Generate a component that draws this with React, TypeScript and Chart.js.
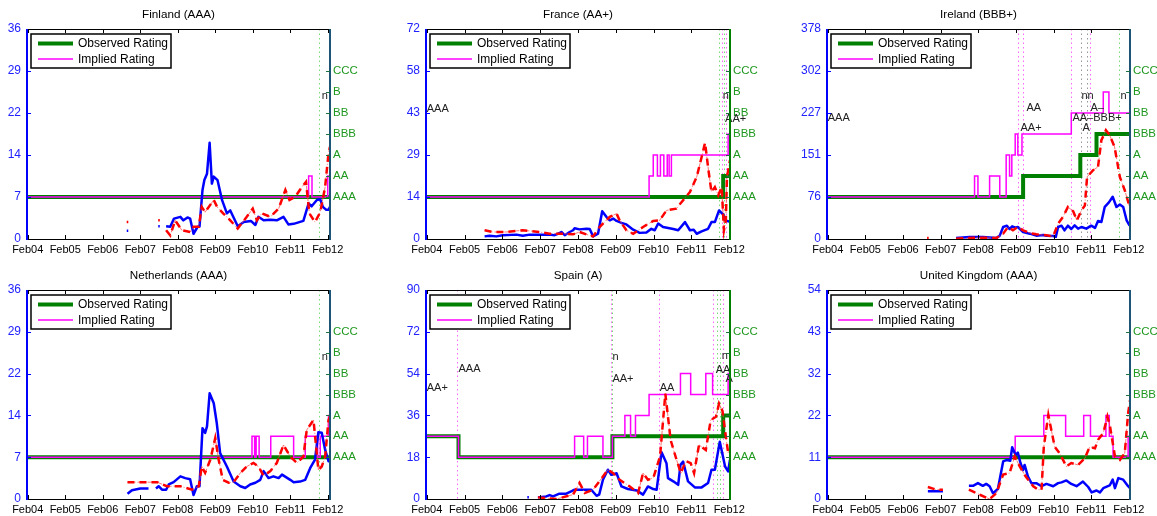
import React, { useEffect, useRef } from 'react';
import { Chart, registerables } from 'chart.js';

Chart.register(...registerables);

type Pt = [number, number];
type Step = [number, string];
type Note = [string, number, number];

const FONT = '"Liberation Sans", Arial, Helvetica, sans-serif';

// ---------- shared labels ----------
const RATINGS = ['AAA', 'AA', 'A', 'BBB', 'BB', 'B', 'CCC'];
const X_TICK_LABELS = ['Feb04', 'Feb05', 'Feb06', 'Feb07', 'Feb08', 'Feb09', 'Feb10', 'Feb11', 'Feb12'];
const TITLES = ['Finland (AAA)', 'France (AA+)', 'Ireland (BBB+)', 'Netherlands (AAA)', 'Spain (A)', 'United Kingdom (AAA)'];
const LEFT_MAX = [36, 72, 378, 36, 90, 54];
const X_END = [8.06, 8.02, 8.03, 8.06, 8.02, 8.03];

// ---------- Finland ----------
const finlandSpread: Pt[][] = [
  [[2.64, 1.4], [2.68, 1.4]],
  [[3.48, 2.2], [3.52, 2.2]],
  [[3.69, 2.2], [3.8, 2.1], [3.9, 3.5], [4.07, 3.8], [4.15, 3.2], [4.26, 3.7], [4.33, 3.5], [4.42, 0.9], [4.53, 2.1], [4.58, 2.1], [4.66, 8.4], [4.71, 10.1], [4.78, 11.2], [4.85, 16.5], [4.91, 9.5], [4.96, 10.7], [5.06, 10.1], [5.18, 6.7], [5.31, 4.4], [5.4, 4.9], [5.6, 2.2], [5.76, 2.9], [5.95, 3.1], [6.07, 2.4], [6.15, 3.8], [6.29, 3.2], [6.47, 3.3], [6.64, 3.2], [6.82, 3.8], [6.95, 2.5], [7.09, 2.6], [7.35, 3.1], [7.49, 6.1], [7.57, 5.6], [7.71, 6.7], [7.8, 6.8], [7.87, 5.5], [7.96, 5.0], [8.02, 5.0], [8.06, 5.5]],
];
const finlandFitted: Pt[][] = [
  [[2.64, 2.9], [2.68, 2.9]],
  [[3.48, 3.2], [3.52, 3.2]],
  [[3.69, 1.5], [3.8, 0.6], [3.93, 3.2], [4.11, 1.5], [4.33, 1.2], [4.42, 2.1], [4.56, 2.1], [4.64, 5.5], [4.73, 4.6], [4.96, 6.7], [5.05, 5.5], [5.21, 4.4], [5.4, 3.2], [5.6, 1.8], [5.84, 3.8], [6.0, 5.2], [6.11, 3.2], [6.24, 4.4], [6.47, 3.8], [6.69, 5.2], [6.87, 8.4], [6.98, 6.7], [7.13, 7.2], [7.31, 8.9], [7.42, 9.8], [7.51, 4.4], [7.66, 2.9], [7.8, 4.6], [7.93, 8.9], [8.02, 14.7], [8.06, 15.8]],
];
const finlandObserved: Step[] = [[-0.1, 'AAA']];
const finlandImplied: Step[] = [[-0.1, 'AAA'], [7.49, 'AA'], [7.58, 'AAA'], [8.0, 'AA']];
const finlandNotes: Note[] = [['n', 7.84, 24.5]];
const finlandMagentaLines: number[] = [];
const finlandGreenLines: number[] = [7.77];
const finlandGrayLines: number[] = [];

// ---------- France ----------
const franceSpread: Pt[][] = [
  [[1.53, 0.9], [1.66, 1.1], [1.84, 0.9], [2.01, 1.3], [2.37, 1.5], [2.54, 1.1], [2.72, 1.5], [2.98, 1.5], [3.25, 1.5], [3.38, 1.3], [3.47, 1.8], [3.56, 2.4], [3.65, 1.3], [3.78, 2.4], [3.87, 3.0], [3.91, 3.7], [4.04, 3.3], [4.22, 3.5], [4.31, 3.4], [4.4, 0.9], [4.53, 1.8], [4.64, 9.5], [4.75, 7.6], [4.84, 6.4], [4.93, 7.0], [5.02, 6.2], [5.15, 5.5], [5.28, 5.0], [5.46, 3.2], [5.63, 2.1], [5.81, 2.2], [5.94, 3.5], [6.03, 3.0], [6.12, 5.3], [6.25, 4.1], [6.52, 3.4], [6.65, 3.0], [6.83, 5.8], [6.96, 3.0], [7.06, 3.2], [7.14, 1.8], [7.27, 2.6], [7.44, 3.5], [7.53, 5.8], [7.62, 5.8], [7.73, 9.8], [7.84, 8.4], [7.89, 6.4], [8.02, 5.9]],
];
const franceFitted: Pt[][] = [
  [[1.53, 3.0], [1.75, 2.4], [2.1, 2.4], [2.54, 3.0], [2.98, 2.4], [3.25, 1.8], [3.6, 1.8], [3.87, 1.6], [4.04, 2.4], [4.22, 1.6], [4.4, 0.9], [4.57, 4.1], [4.84, 7.6], [5.02, 8.7], [5.1, 6.4], [5.28, 3.0], [5.46, 1.8], [5.72, 4.1], [5.99, 6.2], [6.16, 6.4], [6.34, 9.8], [6.6, 10.4], [6.78, 13.3], [6.96, 16.1], [7.14, 21.3], [7.27, 28.1], [7.36, 33.0], [7.45, 23.6], [7.53, 16.1], [7.62, 17.8], [7.71, 15.0], [7.8, 17.8], [7.86, 3.0], [7.91, 6.4], [7.94, 21.3], [8.02, 27.0]],
];
const franceObserved: Step[] = [[-0.1, 'AAA'], [7.84, 'AA']];
const franceImplied: Step[] = [[-0.1, 'AAA'], [5.88, 'AA'], [5.99, 'A'], [6.1, 'AA'], [6.18, 'A'], [6.27, 'AA'], [6.36, 'A'], [6.41, 'AA'], [6.47, 'A'], [7.97, 'BBB']];
const franceNotes: Note[] = [['AAA', 0, 44.7], ['n', 7.83, 49.0], ['AA+', 7.89, 41.3]];
const franceMagentaLines: number[] = [7.8, 7.91];
const franceGreenLines: number[] = [7.74, 7.87];
const franceGrayLines: number[] = [];

// ---------- Ireland ----------
const irelandSpread: Pt[][] = [
  [[3.41, 1.8], [3.77, 3.6], [4.12, 3.6], [4.48, 1.8], [4.57, 6], [4.66, 21.6], [4.76, 24], [4.83, 18], [4.9, 22.8], [4.99, 20.4], [5.05, 21.6], [5.19, 12.6], [5.37, 9.6], [5.54, 6], [5.72, 7.2], [5.81, 6], [5.99, 5.4], [6.06, 4], [6.12, 21.6], [6.21, 24], [6.29, 15.6], [6.38, 24], [6.47, 18], [6.56, 24.6], [6.65, 18.6], [6.74, 21.6], [6.87, 18.6], [7.0, 24], [7.1, 20], [7.18, 32.5], [7.27, 30.6], [7.36, 58], [7.47, 66], [7.57, 76], [7.67, 57.7], [7.76, 62], [7.85, 57.7], [7.94, 33.7], [8.02, 24]],
];
const irelandFitted: Pt[][] = [
  [[2.64, 1.8], [2.68, 1.8]],
  [[3.41, 0.5], [3.77, 1.8], [4.12, 2.4], [4.48, 1.8], [4.66, 9.6], [4.79, 21.6], [4.92, 15.6], [5.05, 21.6], [5.19, 15.6], [5.37, 10.8], [5.54, 8.4], [5.81, 6.6], [5.99, 4.8], [6.12, 27.7], [6.25, 39.7], [6.38, 57.7], [6.52, 50], [6.62, 33.7], [6.74, 51.7], [6.83, 60], [6.89, 111.8], [7.05, 123.8], [7.18, 129.8], [7.27, 177.9], [7.39, 195.9], [7.49, 186.9], [7.62, 165.8], [7.76, 111.8], [7.89, 87.8], [8.02, 57.7]],
];
const irelandObserved: Step[] = [[-0.1, 'AAA'], [5.19, 'AA'], [6.71, 'A'], [7.14, 'BBB']];
const irelandImplied: Step[] = [[-0.1, 'AAA'], [3.9, 'AA'], [3.99, 'AAA'], [4.3, 'AA'], [4.57, 'AAA'], [4.74, 'A'], [4.83, 'AA'], [4.89, 'A'], [4.98, 'BBB'], [5.05, 'A'], [5.16, 'BBB'], [6.47, 'BB'], [7.32, 'B'], [7.47, 'BB']];
const irelandNotes: Note[] = [['AAA', 0, 217], ['AA', 5.28, 235], ['AA+', 5.12, 199], ['nn', 6.74, 257], ['A–', 6.98, 235], ['AA–BBB+', 6.5, 217], ['A', 6.77, 199], ['n', 7.78, 257]];
const irelandMagentaLines: number[] = [5.05, 5.2, 6.47, 6.96];
const irelandGreenLines: number[] = [7.73];
const irelandGrayLines: number[] = [6.72, 6.89];

// ---------- Netherlands ----------
const netherlandsSpread: Pt[][] = [
  [[2.66, 0.9], [2.78, 1.5], [3.0, 1.8], [3.22, 1.8]],
  [[3.42, 1.8], [3.49, 2.2], [3.58, 1.6], [3.69, 1.6], [3.76, 2.5], [3.89, 2.9], [4.07, 3.9], [4.2, 3.6], [4.33, 3.4], [4.42, 0.7], [4.51, 2.2], [4.58, 2.2], [4.66, 12.2], [4.73, 11.4], [4.78, 12.5], [4.85, 18.2], [4.96, 16.5], [5.04, 13.1], [5.13, 7.9], [5.31, 5.6], [5.49, 3.0], [5.67, 2.2], [5.8, 1.9], [5.93, 2.5], [6.07, 2.8], [6.2, 3.3], [6.29, 4.8], [6.42, 3.6], [6.55, 3.9], [6.69, 3.6], [6.78, 4.2], [7.0, 3.3], [7.09, 2.9], [7.26, 3.0], [7.4, 3.3], [7.53, 5.3], [7.66, 6.8], [7.75, 11.5], [7.84, 11.4], [7.93, 8.5], [8.02, 6.5], [8.06, 7.1]],
];
const netherlandsFitted: Pt[][] = [
  [[2.66, 2.9], [3.0, 2.9], [3.45, 2.9], [3.71, 2.2], [3.89, 2.2], [4.07, 2.2], [4.38, 1.6], [4.56, 2.2], [4.64, 5.6], [4.73, 4.5], [4.87, 6.8], [5.0, 10.5], [5.09, 6.8], [5.2, 3.3], [5.36, 2.8], [5.49, 2.9], [5.67, 4.5], [5.84, 5.6], [6.02, 6.2], [6.15, 5.6], [6.29, 4.0], [6.47, 4.8], [6.64, 6.2], [6.82, 9.3], [7.0, 7.3], [7.18, 6.2], [7.35, 7.3], [7.44, 11.9], [7.62, 13.6], [7.75, 5.0], [7.84, 5.6], [7.93, 7.3], [8.02, 13.6], [8.06, 14.2]],
];
const netherlandsObserved: Step[] = [[-0.1, 'AAA']];
const netherlandsImplied: Step[] = [[-0.1, 'AAA'], [5.98, 'AA'], [6.05, 'AAA'], [6.09, 'AA'], [6.17, 'AAA'], [6.48, 'AA'], [7.09, 'AAA'], [7.4, 'AA'], [7.73, 'AAA'], [7.8, 'AA'], [8.02, 'A']];
const netherlandsNotes: Note[] = [['n', 7.84, 24.5]];
const netherlandsMagentaLines: number[] = [];
const netherlandsGreenLines: number[] = [7.77];
const netherlandsGrayLines: number[] = [];

// ---------- Spain ----------
const spainSpread: Pt[][] = [
  [[2.66, 0.7], [2.7, 0.7]],
  [[2.94, 0.7], [3.16, 1.1], [3.25, 1.7], [3.34, 1.1], [3.51, 2.3], [3.69, 2.3], [3.82, 3.3], [3.91, 4.0], [4.13, 4.0], [4.35, 4.0], [4.49, 1.4], [4.56, 1.9], [4.66, 8.3], [4.79, 12.6], [4.88, 10.4], [5.02, 11.1], [5.15, 5.4], [5.32, 4.3], [5.55, 3.7], [5.72, 1.9], [5.85, 5.4], [5.99, 4.3], [6.08, 4.0], [6.21, 20.1], [6.34, 15.4], [6.38, 9.0], [6.52, 7.6], [6.65, 6.1], [6.71, 14.7], [6.78, 16.1], [6.91, 7.6], [7.09, 5.0], [7.27, 5.0], [7.44, 6.9], [7.53, 12.6], [7.62, 12.6], [7.75, 24.7], [7.89, 14.0], [7.97, 11.9], [8.02, 16.9]],
];
const spainFitted: Pt[][] = [
  [[2.94, 0.7], [3.43, 0.0], [3.87, 1.9], [4.04, 6.9], [4.18, 2.6], [4.4, 4.0], [4.66, 9.7], [4.79, 12.6], [4.93, 11.1], [5.1, 8.3], [5.37, 5.4], [5.59, 2.6], [5.72, 11.1], [5.85, 8.3], [5.99, 9.0], [6.17, 18.3], [6.31, 45.4], [6.45, 25.4], [6.58, 18.3], [6.72, 11.1], [6.85, 16.4], [6.98, 15.4], [7.07, 11.1], [7.2, 23.3], [7.38, 21.1], [7.51, 34.0], [7.65, 35.4], [7.73, 41.1], [7.82, 38.0], [7.91, 26.9], [7.97, 20.0], [8.02, 21.0]],
];
const spainObserved: Step[] = [[-0.1, 'AA'], [0.84, 'AAA'], [4.91, 'AA'], [7.84, 'A']];
const spainImplied: Step[] = [[-0.1, 'AA'], [0.84, 'AAA'], [3.91, 'AA'], [4.15, 'AAA'], [4.25, 'AA'], [4.66, 'AAA'], [4.91, 'AA'], [5.24, 'A'], [5.39, 'AA'], [5.52, 'A'], [5.88, 'BBB'], [6.71, 'BB'], [6.98, 'BBB'], [7.38, 'BB'], [7.56, 'BBB'], [7.97, 'BB']];
const spainNotes: Note[] = [['AA+', 0, 47.6], ['AAA', 0.84, 56.1], ['n', 4.91, 61.1], ['AA+', 4.91, 51.9], ['AA', 6.16, 47.6], ['n', 7.8, 61.6], ['AA', 7.64, 55.6], ['A', 7.9, 51.7]];
const spainMagentaLines: number[] = [0.8, 4.86, 6.15, 7.58, 7.84];
const spainGreenLines: number[] = [4.89, 7.67, 7.76];
const spainGrayLines: number[] = [];

// ---------- United Kingdom ----------
const ukSpread: Pt[][] = [
  [[2.66, 2.0], [3.06, 2.0]],
  [[3.75, 3.4], [3.86, 3.4], [3.99, 4.1], [4.12, 3.4], [4.21, 3.9], [4.3, 3.3], [4.39, 1.5], [4.52, 2.6], [4.66, 9.7], [4.76, 10.1], [4.85, 9.9], [4.9, 13.4], [4.99, 11.4], [5.05, 12.0], [5.12, 9.3], [5.19, 7.5], [5.23, 8.8], [5.32, 5.8], [5.41, 4.1], [5.54, 4.1], [5.68, 3.3], [5.81, 3.9], [5.99, 3.3], [6.12, 4.1], [6.21, 4.3], [6.34, 4.8], [6.47, 3.9], [6.61, 3.3], [6.78, 4.5], [6.92, 3.1], [7.01, 1.7], [7.14, 2.2], [7.23, 1.7], [7.32, 2.8], [7.49, 3.5], [7.57, 5.0], [7.63, 2.8], [7.72, 5.4], [7.85, 5.0], [7.98, 3.3], [8.03, 2.8]],
];
const ukFitted: Pt[][] = [
  [[2.66, 3.1], [2.88, 2.4], [3.06, 2.4]],
  [[3.75, 2.4], [4.04, 1.1], [4.3, 0.0], [4.48, 1.5], [4.66, 6.3], [4.83, 6.7], [4.97, 11.0], [5.1, 8.4], [5.26, 5.8], [5.46, 3.3], [5.59, 2.4], [5.68, 2.4], [5.74, 13.5], [5.86, 21.7], [5.94, 17.8], [6.03, 13.5], [6.16, 11.8], [6.34, 8.4], [6.47, 9.3], [6.65, 8.8], [6.83, 10.5], [6.96, 13.5], [7.1, 13.1], [7.18, 15.3], [7.32, 17.0], [7.43, 21.3], [7.5, 18.7], [7.63, 11.0], [7.76, 10.1], [7.89, 11.8], [7.98, 22.1], [8.03, 25.5]],
];
const ukObserved: Step[] = [[-0.1, 'AAA']];
const ukImplied: Step[] = [[-0.1, 'AAA'], [4.98, 'AA'], [5.74, 'A'], [6.32, 'AA'], [6.8, 'A'], [6.98, 'AA'], [7.39, 'A'], [7.48, 'AA'], [7.58, 'AAA'], [7.98, 'AA']];
const ukNotes: Note[] = [];
const ukMagentaLines: number[] = [];
const ukGreenLines: number[] = [];
const ukGrayLines: number[] = [];

// ---------- panel config (built from the arrays above) ----------
const PANELS = [
  { spread: finlandSpread, fitted: finlandFitted, observed: finlandObserved, implied: finlandImplied, notes: finlandNotes, mag: finlandMagentaLines, green: finlandGreenLines, gray: finlandGrayLines },
  { spread: franceSpread, fitted: franceFitted, observed: franceObserved, implied: franceImplied, notes: franceNotes, mag: franceMagentaLines, green: franceGreenLines, gray: franceGrayLines },
  { spread: irelandSpread, fitted: irelandFitted, observed: irelandObserved, implied: irelandImplied, notes: irelandNotes, mag: irelandMagentaLines, green: irelandGreenLines, gray: irelandGrayLines },
  { spread: netherlandsSpread, fitted: netherlandsFitted, observed: netherlandsObserved, implied: netherlandsImplied, notes: netherlandsNotes, mag: netherlandsMagentaLines, green: netherlandsGreenLines, gray: netherlandsGrayLines },
  { spread: spainSpread, fitted: spainFitted, observed: spainObserved, implied: spainImplied, notes: spainNotes, mag: spainMagentaLines, green: spainGreenLines, gray: spainGrayLines },
  { spread: ukSpread, fitted: ukFitted, observed: ukObserved, implied: ukImplied, notes: ukNotes, mag: ukMagentaLines, green: ukGreenLines, gray: ukGrayLines },
];

// layout: cell boxes and plot-area edges (page pixels)
const CELLS = [
  { left: 0, top: 0, w: 386, h: 258, L: 27, R: 330, T: 29, B: 239 },
  { left: 386, top: 0, w: 386, h: 258, L: 426, R: 730, T: 29, B: 239 },
  { left: 772, top: 0, w: 385, h: 258, L: 827, R: 1130, T: 29, B: 239 },
  { left: 0, top: 258, w: 386, h: 258, L: 27, R: 330, T: 290, B: 499 },
  { left: 386, top: 258, w: 386, h: 258, L: 426, R: 730, T: 290, B: 499 },
  { left: 772, top: 258, w: 385, h: 258, L: 827, R: 1130, T: 290, B: 499 },
];
const RIGHT_SPINE = ['#1d5577', '#008000', '#1d5577', '#1d5577', '#008000', '#1d5577'];

const BLUE = '#0000ff';
const RED = '#ff0000';
const GREEN = '#008000';
const MAGENTA = '#ff00ff';
const LABEL_GREEN = '#1f981f';
const LABEL_BLUE = '#2222ff';

function toXY(segs: Pt[][]) {
  const out: { x: number; y: number | null }[] = [];
  segs.forEach((seg, i) => {
    if (i > 0) {
      const prev = segs[i - 1];
      out.push({ x: (prev[prev.length - 1][0] + seg[0][0]) / 2, y: null });
    }
    seg.forEach(([x, y]) => out.push({ x, y }));
  });
  return out;
}

function toSteps(changes: Step[], xEnd: number) {
  const pts = changes.map(([x, r]) => ({ x, y: RATINGS.indexOf(r) + 2 }));
  pts.push({ x: xEnd + 0.1, y: pts[pts.length - 1].y });
  return pts;
}

function makePlugin(idx: number) {
  const p = PANELS[idx];
  return {
    id: 'decor' + idx,
    beforeDatasetsDraw(chart: any) {
      const { ctx, chartArea: a, scales } = chart;
      const xs = scales.x;
      ctx.save();
      ctx.lineWidth = 1;
      ctx.setLineDash([1.5, 3]);
      const groups: [string, number[]][] = [['#ff66ff', p.mag], ['#77dd77', p.green], ['#999999', p.gray]];
      groups.forEach(([c, list]) => {
        ctx.strokeStyle = c;
        list.forEach((v) => {
          const px = Math.round(xs.getPixelForValue(v)) + 0.5;
          ctx.beginPath();
          ctx.moveTo(px, a.top);
          ctx.lineTo(px, a.bottom);
          ctx.stroke();
        });
      });
      ctx.restore();
    },
    afterDatasetsDraw(chart: any) {
      const { ctx, chartArea: a, scales } = chart;
      const xs = scales.x;
      const yl = scales.y;
      const yr = scales.yR;
      ctx.save();
      // annotations
      ctx.font = '11px ' + FONT;
      ctx.fillStyle = '#222';
      ctx.textAlign = 'left';
      ctx.textBaseline = 'middle';
      p.notes.forEach(([t, x, y]) => {
        ctx.fillText(t, xs.getPixelForValue(x), yl.getPixelForValue(y));
      });
      // frame: top and bottom
      ctx.strokeStyle = '#000';
      ctx.lineWidth = 1;
      ctx.beginPath();
      ctx.moveTo(a.left, a.top + 0.5);
      ctx.lineTo(a.right, a.top + 0.5);
      ctx.moveTo(a.left, a.bottom + 0.5);
      ctx.lineTo(a.right, a.bottom + 0.5);
      for (let i = 0; i < X_TICK_LABELS.length; i++) {
        const px = Math.round(xs.getPixelForValue(i)) + 0.5;
        ctx.moveTo(px, a.bottom);
        ctx.lineTo(px, a.bottom - 4);
        ctx.moveTo(px, a.top);
        ctx.lineTo(px, a.top + 4);
      }
      ctx.stroke();
      // left spine and ticks
      ctx.strokeStyle = BLUE;
      ctx.lineWidth = 2;
      ctx.beginPath();
      ctx.moveTo(a.left, a.top);
      ctx.lineTo(a.left, a.bottom + 1);
      ctx.stroke();
      ctx.lineWidth = 1;
      ctx.beginPath();
      for (let i = 1; i < 5; i++) {
        const py = Math.round(yl.getPixelForValue((i * LEFT_MAX[idx]) / 5)) + 0.5;
        ctx.moveTo(a.left, py);
        ctx.lineTo(a.left + 4, py);
      }
      ctx.stroke();
      // right spine and rating ticks
      ctx.strokeStyle = RIGHT_SPINE[idx];
      ctx.lineWidth = 2;
      ctx.beginPath();
      ctx.moveTo(a.right, a.top);
      ctx.lineTo(a.right, a.bottom + 1);
      ctx.stroke();
      ctx.strokeStyle = '#1f6f3f';
      ctx.lineWidth = 1;
      ctx.beginPath();
      for (let r = 0; r < RATINGS.length; r++) {
        const py = Math.round(yr.getPixelForValue(r + 2)) + 0.5;
        ctx.moveTo(a.right, py);
        ctx.lineTo(a.right - 4, py);
      }
      ctx.stroke();
      // legend
      const lx = a.left + 4;
      const ly = a.top + 5;
      ctx.fillStyle = '#fff';
      ctx.fillRect(lx, ly, 140, 34);
      ctx.strokeStyle = '#000';
      ctx.lineWidth = 1.5;
      ctx.strokeRect(lx, ly, 140, 34);
      ctx.lineWidth = 4;
      ctx.strokeStyle = GREEN;
      ctx.beginPath();
      ctx.moveTo(lx + 7, ly + 9.5);
      ctx.lineTo(lx + 42, ly + 9.5);
      ctx.stroke();
      ctx.lineWidth = 1.5;
      ctx.strokeStyle = MAGENTA;
      ctx.beginPath();
      ctx.moveTo(lx + 7, ly + 25);
      ctx.lineTo(lx + 42, ly + 25);
      ctx.stroke();
      ctx.fillStyle = '#000';
      ctx.font = '12px ' + FONT;
      ctx.textBaseline = 'middle';
      ctx.fillText('Observed Rating', lx + 47, ly + 10);
      ctx.fillText('Implied Rating', lx + 47, ly + 25.5);
      // title
      ctx.font = '11.7px ' + FONT;
      ctx.textAlign = 'center';
      ctx.fillText(TITLES[idx], (a.left + a.right) / 2, a.top - 14);
      ctx.restore();
    },
  };
}

function Panel({ idx }: { idx: number }) {
  const ref = useRef<HTMLCanvasElement>(null);
  const cell = CELLS[idx];
  useEffect(() => {
    if (!ref.current) return;
    const p = PANELS[idx];
    const xEnd = X_END[idx];
    const lmax = LEFT_MAX[idx];
    const chart = new Chart(ref.current, {
      type: 'line',
      data: {
        datasets: [
          { label: 'Observed Rating', data: toSteps(p.observed, xEnd), yAxisID: 'yR', borderColor: GREEN, backgroundColor: GREEN, borderWidth: 4, stepped: 'before', pointRadius: 0, order: 5 },
          { label: 'Implied Rating', data: toSteps(p.implied, xEnd), yAxisID: 'yR', borderColor: MAGENTA, backgroundColor: MAGENTA, borderWidth: 1.5, stepped: 'before', pointRadius: 0, order: 4 },
          { label: 'spread', data: toXY(p.spread), yAxisID: 'y', borderColor: BLUE, backgroundColor: BLUE, borderWidth: 2.5, pointRadius: 0, spanGaps: false, borderJoinStyle: 'round', order: 3 },
          { label: 'fitted thin', data: toXY(p.fitted), yAxisID: 'y', borderColor: 'rgba(255,70,70,0.75)', borderWidth: 1, borderDash: [5, 2, 1, 2], pointRadius: 0, spanGaps: false, order: 2 },
          { label: 'fitted', data: toXY(p.fitted), yAxisID: 'y', borderColor: RED, backgroundColor: RED, borderWidth: 2.5, borderDash: [7, 5], pointRadius: 0, spanGaps: false, order: 1 },
        ] as any,
      },
      options: {
        animation: false,
        responsive: false,
        maintainAspectRatio: false,
        events: [],
        layout: { padding: { top: cell.T - cell.top, left: 0, right: 0, bottom: 0 } },
        plugins: { legend: { display: false }, title: { display: false }, tooltip: { enabled: false } },
        scales: {
          x: {
            type: 'linear',
            min: -0.02,
            max: xEnd,
            afterBuildTicks: (s: any) => {
              s.ticks = X_TICK_LABELS.map((_, i) => ({ value: i }));
            },
            afterFit: (s: any) => {
              s.height = cell.top + cell.h - cell.B;
            },
            ticks: {
              callback: (v: any) => X_TICK_LABELS[Math.round(Number(v))] ?? '',
              font: { family: FONT, size: 11 },
              color: '#000',
              padding: 4,
              maxRotation: 0,
              autoSkip: false,
            },
            grid: { display: false, drawTicks: false },
            border: { display: false },
          },
          y: {
            position: 'left',
            min: 0,
            max: lmax,
            afterBuildTicks: (s: any) => {
              s.ticks = [0, 1, 2, 3, 4, 5].map((i) => ({ value: (i * lmax) / 5 }));
            },
            afterFit: (s: any) => {
              s.width = cell.L - cell.left;
            },
            ticks: {
              callback: (v: any) => String(Math.round(Number(v))),
              font: { family: FONT, size: 12 },
              color: LABEL_BLUE,
              padding: 6,
            },
            grid: { display: false, drawTicks: false },
            border: { display: false },
          },
          yR: {
            position: 'right',
            min: 0,
            max: 10,
            afterBuildTicks: (s: any) => {
              s.ticks = RATINGS.map((_, i) => ({ value: i + 2 }));
            },
            afterFit: (s: any) => {
              s.width = cell.left + cell.w - cell.R;
            },
            ticks: {
              callback: (v: any) => RATINGS[Math.round(Number(v)) - 2] ?? '',
              font: { family: FONT, size: 11.5 },
              color: LABEL_GREEN,
              padding: 3,
            },
            grid: { display: false, drawTicks: false },
            border: { display: false },
          },
        },
      } as any,
      plugins: [makePlugin(idx)],
    });
    return () => chart.destroy();
  }, [idx]);
  return (
    <canvas
      ref={ref}
      width={cell.w}
      height={cell.h}
      style={{ position: 'absolute', left: cell.left, top: cell.top, width: cell.w, height: cell.h }}
    />
  );
}

export default function App() {
  return (
    <div style={{ position: 'absolute', left: 0, top: 0, width: 1157, height: 516, background: '#fff', overflow: 'hidden' }}>
      {PANELS.map((_, i) => (
        <Panel key={i} idx={i} />
      ))}
    </div>
  );
}
